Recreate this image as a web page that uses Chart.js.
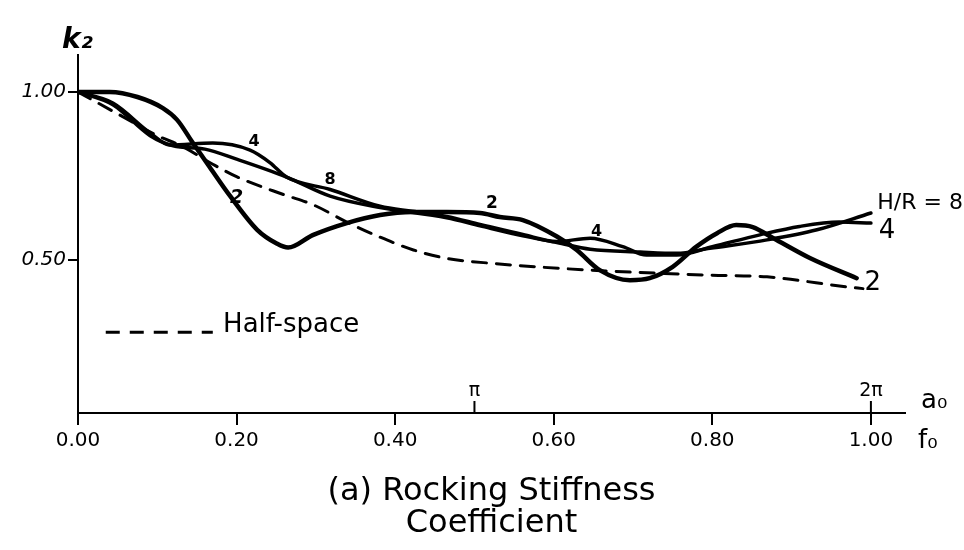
<!DOCTYPE html>
<html>
<head>
<meta charset="utf-8">
<script src="https://cdn.jsdelivr.net/npm/chart.js@4.4.1/dist/chart.umd.min.js"></script>
<style>
  body { margin: 0; background: #fff; }
  #wrap { width: 964px; height: 550px; }
</style>
</head>
<body>
<div id="wrap"><canvas id="myChart"></canvas></div>
<script>
// frequency f0 and stiffness k2
var fHR2 = [0, 0.04, 0.075, 0.107, 0.125, 0.145, 0.166, 0.192, 0.226, 0.25, 0.265, 0.296, 0.339, 0.381, 0.422, 0.465, 0.507, 0.532, 0.561, 0.604, 0.629, 0.658, 0.696, 0.721, 0.75, 0.78, 0.806, 0.83, 0.851, 0.877, 0.923, 0.982];
var kHR2 = [1.0, 1.0, 0.985, 0.952, 0.917, 0.848, 0.777, 0.69, 0.59, 0.55, 0.537, 0.574, 0.61, 0.634, 0.643, 0.643, 0.64, 0.628, 0.619, 0.57, 0.53, 0.47, 0.44, 0.446, 0.48, 0.54, 0.58, 0.604, 0.598, 0.565, 0.506, 0.446];

var fHR4 = [0, 0.044, 0.091, 0.116, 0.17, 0.217, 0.242, 0.263, 0.318, 0.381, 0.422, 0.465, 0.507, 0.561, 0.604, 0.646, 0.687, 0.717, 0.755, 0.8, 0.86, 0.91, 0.96, 1.0];
var kHR4 = [1.0, 0.967, 0.878, 0.842, 0.848, 0.827, 0.79, 0.747, 0.71, 0.66, 0.645, 0.63, 0.606, 0.576, 0.555, 0.565, 0.54, 0.515, 0.515, 0.54, 0.575, 0.6, 0.613, 0.61];

var fHR8 = [0, 0.044, 0.091, 0.12, 0.16, 0.2, 0.263, 0.318, 0.381, 0.465, 0.507, 0.561, 0.604, 0.646, 0.709, 0.755, 0.797, 0.869, 0.932, 1.0];
var kHR8 = [1.0, 0.962, 0.87, 0.84, 0.83, 0.8, 0.747, 0.69, 0.656, 0.626, 0.602, 0.572, 0.552, 0.532, 0.524, 0.52, 0.535, 0.56, 0.59, 0.64];

var fHalf = [0, 0.05, 0.1, 0.13, 0.17, 0.2, 0.259, 0.297, 0.339, 0.381, 0.423, 0.465, 0.523, 0.646, 0.797, 0.869, 0.97, 0.99];
var kHalf = [1.0, 0.935, 0.87, 0.84, 0.785, 0.748, 0.695, 0.664, 0.613, 0.568, 0.53, 0.505, 0.49, 0.47, 0.455, 0.45, 0.42, 0.415];

var fTicks = [0, 0.2, 0.4, 0.6, 0.8, 1.0];
var kTicks = [0.5, 1.0];
var aTicks = [0.5, 1.0];
var aTickLabels = ['\u03c0', '2\u03c0'];

function pts(xs, ys) {
    return xs.map(function (x, i) { return { x: x, y: ys[i] }; });
}

// text written on the drawing, placed in data units
var notes = [
    { text: '2', f: 0.2, k: 0.683, size: 19, style: 'italic bold' },
    { text: '4', f: 0.222, k: 0.852, size: 16, style: 'bold' },
    { text: '8', f: 0.318, k: 0.738, size: 16, style: 'bold' },
    { text: '2', f: 0.522, k: 0.667, size: 17, style: 'bold' },
    { text: '4', f: 0.654, k: 0.585, size: 16, style: 'bold' },
    { text: '2', f: 0.992, k: 0.43, size: 26, style: 'normal', align: 'left' },
    { text: '4', f: 1.01, k: 0.585, size: 26, style: 'normal', align: 'left' },
    { text: 'H/R = 8', f: 1.008, k: 0.67, size: 22, style: 'normal', align: 'left' }
];

var sketchLabels = {
    id: 'sketchLabels',
    afterDatasetsDraw: function (chart) {
        var c = chart.ctx, xs = chart.scales.x, ys = chart.scales.y;
        c.save();
        c.fillStyle = '#000';
        c.strokeStyle = '#000';
        c.textBaseline = 'middle';
        notes.forEach(function (n) {
            c.font = n.style + ' ' + n.size + 'px "DejaVu Sans"';
            c.textAlign = n.align || 'center';
            c.fillText(n.text, xs.getPixelForValue(n.f), ys.getPixelForValue(n.k));
        });

        // legend for the half-space curve
        var ly = ys.getPixelForValue(0.285);
        c.lineWidth = 3;
        c.setLineDash([14, 10]);
        c.beginPath();
        c.moveTo(xs.getPixelForValue(0.035), ly);
        c.lineTo(xs.getPixelForValue(0.17), ly);
        c.stroke();
        c.setLineDash([]);
        c.font = '26px "DejaVu Sans"';
        c.textAlign = 'left';
        c.fillText('Half-space', xs.getPixelForValue(0.183), ly - 7);

        // a0 marks above the f0 axis
        var base = ys.bottom;
        c.lineWidth = 2;
        c.font = '19px "DejaVu Sans"';
        c.textAlign = 'center';
        aTicks.forEach(function (v, i) {
            var px = xs.getPixelForValue(v);
            c.beginPath();
            c.moveTo(px, base);
            c.lineTo(px, base - 12);
            c.stroke();
            c.fillText(aTickLabels[i], px, base - 22);
        });
        c.textAlign = 'left';
        c.font = '26px "DejaVu Sans"';
        c.fillText('a\u2080', xs.getPixelForValue(1.043) + 16, base - 12);
        c.fillText('f\u2080', xs.getPixelForValue(1.043) + 13, base + 28);

        // k2 label on top of the axis
        c.font = 'italic bold 28px "DejaVu Sans"';
        c.fillText('k\u2082', xs.left - 16, ys.top - 14);
        c.restore();
    }
};

var ctx = document.getElementById('myChart').getContext('2d');
var chart = new Chart(ctx, {
    type: 'line',
    data: {
        datasets: [
            {
                label: 'H/R = 2',
                data: pts(fHR2, kHR2),
                borderColor: '#000',
                borderWidth: 4.5,
            },
            {
                label: 'H/R = 4',
                data: pts(fHR4, kHR4),
                borderColor: '#000',
                borderWidth: 3.5,
            },
            {
                label: 'H/R = 8',
                data: pts(fHR8, kHR8),
                borderColor: '#000',
                borderWidth: 3.5,
            },
            {
                label: 'Half-space',
                data: pts(fHalf, kHalf),
                borderColor: '#000',
                borderWidth: 3,
                borderDash: [14, 10],
            }
        ]
    },
    plugins: [sketchLabels],
    options: {
        responsive: true,
        maintainAspectRatio: false,
        animation: false,
        layout: { padding: { left: 0, right: 59, top: 55, bottom: 0 } },
        elements: {
            point: { radius: 0 },
            line: { cubicInterpolationMode: 'monotone', borderCapStyle: 'round', borderJoinStyle: 'round' }
        },
        plugins: {
            legend: { display: false },
            tooltip: { enabled: false },
            title: {
                display: true,
                fullSize: false,
                position: 'bottom',
                text: ['(a) Rocking Stiffness', 'Coefficient'],
                color: '#000',
                font: { family: 'DejaVu Sans', size: 32, weight: 'normal', lineHeight: 1.0 },
                padding: { top: 13, bottom: 10 }
            }
        },
        scales: {
            x: {
                type: 'linear',
                min: 0,
                max: 1.043,
                afterBuildTicks: function (s) { s.ticks = fTicks.map(function (v) { return { value: v }; }); },
                afterFit: function (s) { s.height = 50; },
                ticks: {
                    color: '#000',
                    padding: 4,
                    font: { family: 'DejaVu Sans', size: 20 },
                    callback: function (v) { return v.toFixed(2); }
                },
                grid: { drawOnChartArea: false, tickLength: 12, color: '#000', lineWidth: 2 },
                border: { color: '#000', width: 2 }
            },
            y: {
                min: 0.045,
                max: 1.11,
                afterBuildTicks: function (s) { s.ticks = kTicks.map(function (v) { return { value: v }; }); },
                afterFit: function (s) { s.width = 78; },
                ticks: {
                    color: '#000',
                    padding: 2,
                    font: { family: 'DejaVu Sans', size: 20, style: 'italic' },
                    callback: function (v) { return v.toFixed(2); }
                },
                grid: { drawOnChartArea: false, tickLength: 10, color: '#000', lineWidth: 2 },
                border: { color: '#000', width: 2 }
            }
        }
    }
});
</script>
</body>
</html>
